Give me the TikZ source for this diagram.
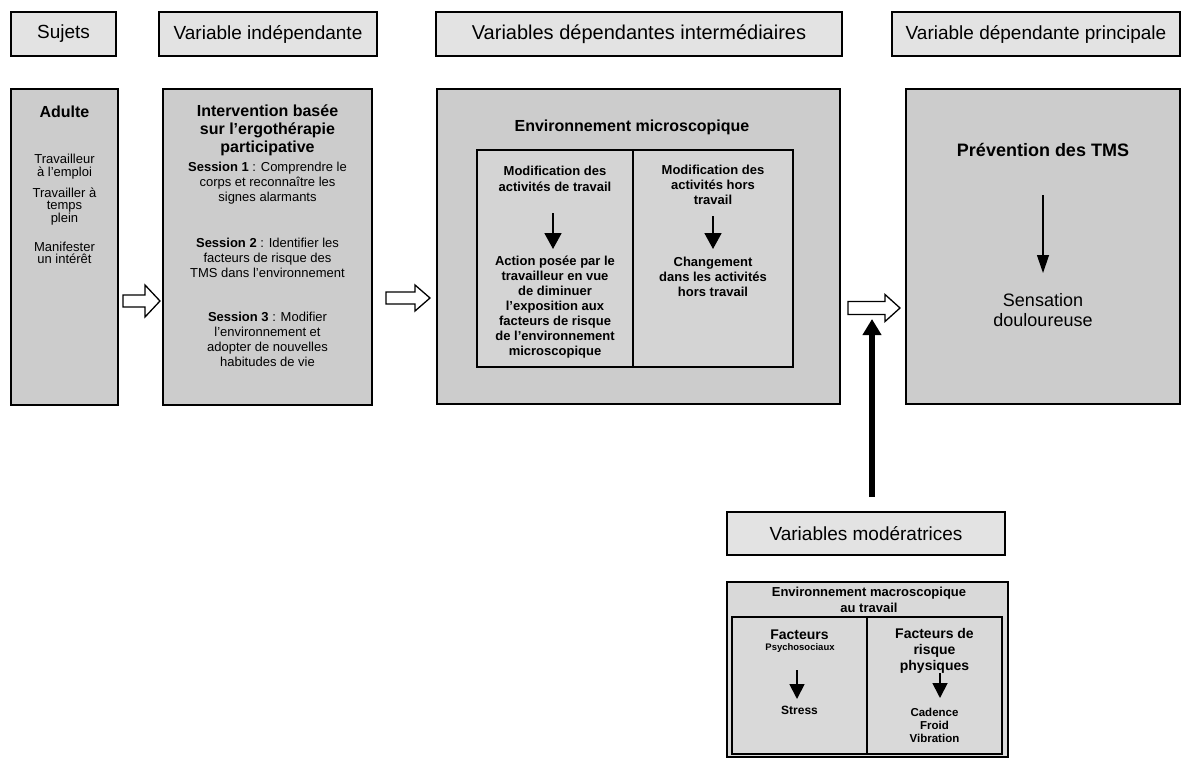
\documentclass[tikz,border=0pt]{standalone}
\usepackage{fontspec}
\setmainfont{Liberation Sans}
\usetikzlibrary{arrows.meta}
\newcommand{\fsz}[2]{\fontsize{#1}{#2}\selectfont}
\newcommand{\hollowarr}[6]{%
  \draw[hollow] (#1,{#3-#4}) -- ({#2-#6},{#3-#4}) -- ({#2-#6},{#3-#5}) -- (#2,#3)
    -- ({#2-#6},{#3+#5}) -- ({#2-#6},{#3+#4}) -- (#1,{#3+#4}) -- cycle;}
\begin{document}
\begin{tikzpicture}[x=1pt,y=-1pt,
  box/.style={draw, line width=1.6pt, fill=black!20, inner sep=0pt, rectangle},
  ibox/.style={draw, line width=1.6pt, fill=black!17, inner sep=0pt, rectangle},
  hdr/.style={draw, line width=1.6pt, fill=black!11, inner sep=0pt, rectangle, font=\fsz{19}{22}},
  txt/.style={align=center, inner sep=0pt},
  hollow/.style={draw, line width=1.3pt, fill=white, line join=miter},
  thinarr/.style={line width=1.8pt, -{Triangle[width=17pt,length=16pt]}},
  fleche/.style={line width=1.2pt, -{Triangle[width=12pt,length=18pt]}},
  smallarr/.style={line width=1.8pt, -{Triangle[width=15pt,length=15pt]}},
  bigarr/.style={line width=5.5pt, -{Triangle[width=18pt,length=16pt]}}
]
\useasboundingbox (0,0) rectangle (1184,758);
\fill[white] (0,0) rectangle (1184,758);

% headers
\node[hdr, minimum width=105pt, minimum height=44pt] (hsuj) at (63.5,34) {Sujets};
\node[hdr, minimum width=218pt, minimum height=44pt] (hind) at (268,34) {Variable indépendante};
\node[hdr, minimum width=406pt, minimum height=44pt, font=\fsz{20}{22}] (hint) at (639,34) {Variables dépendantes intermédiaires};
\node[hdr, minimum width=288pt, minimum height=44pt] (hpri) at (1036,34) {Variable dépendante principale};

% main boxes
\node[box, minimum width=107pt, minimum height=316pt] (adulte) at (64.5,247) {};
\node[box, minimum width=209pt, minimum height=316pt] (interv) at (267.5,247) {};
\node[box, minimum width=403pt, minimum height=315pt] (micro) at (638.5,246.5) {};
\node[box, minimum width=274pt, minimum height=315pt] (prev) at (1043,246.5) {};

% Adulte
\node[txt, font=\fsz{16}{18}\bfseries] (tadulte) at (64.5,112) {Adulte};
\node[txt, font=\fsz{13}{13}] (ta1) at (64.5,166.5) {Travailleur\\à l'emploi};
\node[txt, font=\fsz{13}{12}] (ta2) at (64.5,206.5) {Travailler à\\temps\\plein};
\node[txt, font=\fsz{13}{12}] (ta3) at (64.5,252.5) {Manifester\\un intérêt};

% Intervention
\node[txt, font=\fsz{16}{18}\bfseries] (tint) at (267.5,130) {Intervention basée\\sur l'ergothérapie\\participative};
\node[txt, font=\fsz{13}{15}] (ts1) at (267.5,183) {\textbf{Session 1} : Comprendre le\\corps et reconnaître les\\signes alarmants};
\node[txt, font=\fsz{13}{15}] (ts2) at (267.5,258) {\textbf{Session 2} : Identifier les\\facteurs de risque des\\TMS dans l'environnement};
\node[txt, font=\fsz{13}{15}] (ts3) at (267.5,339.5) {\textbf{Session 3} : Modifier\\l'environnement et\\adopter de nouvelles\\habitudes de vie};

% Micro environment
\node[txt, font=\fsz{16}{18}\bfseries] (tmicro) at (632,127) {Environnement microscopique};
\node[ibox, minimum width=316pt, minimum height=217pt] (inner) at (635,258.5) {};
\coordinate (divt) at (633,150);
\coordinate (divb) at (633,367);
\draw[line width=1.2pt] (divt) -- (divb);
\node[txt, font=\fsz{13}{16}\bfseries] (tl1) at (555,178.5) {Modification des\\activités de travail};
\node[txt, font=\fsz{13}{15}\bfseries] (tr1) at (713,185) {Modification des\\activités hors\\travail};
\node[txt, font=\fsz{13}{15}\bfseries] (tl2) at (555,307) {Action posée par le\\travailleur en vue\\de diminuer\\l'exposition aux\\facteurs de risque\\de l'environnement\\microscopique};
\node[txt, font=\fsz{13}{15}\bfseries] (tr2) at (713,277) {Changement\\dans les activités\\hors travail};
\coordinate (al0) at (553,213);
\coordinate (al1) at (553,249);
\coordinate (ar0) at (713,216);
\coordinate (ar1) at (713,249);
\draw[thinarr] (al0) -- (al1);
\draw[thinarr] (ar0) -- (ar1);

% Prevention
\node[txt, font=\fsz{18}{20}\bfseries] (tprev) at (1043,150) {Prévention des TMS};
\node[txt, font=\fsz{18}{20}] (tsens) at (1043,310) {Sensation\\douloureuse};
\coordinate (ap0) at (1043,195);
\coordinate (ap1) at (1043,273);
\draw[fleche] (ap0) -- (ap1);

% hollow arrows
\hollowarr{123}{160}{301}{6}{16}{15}
\hollowarr{386}{430}{298}{6}{13}{15}
\hollowarr{848}{900}{308}{6.5}{13.5}{15}

% moderators
\node[hdr, minimum width=278pt, minimum height=43pt] (hmod) at (866,533.5) {Variables modératrices};
\coordinate (bg0) at (872,497);
\coordinate (bg1) at (872,319);
\draw[bigarr] (bg0) -- (bg1);

\node[box, fill=black!15, minimum width=281pt, minimum height=175pt] (macro) at (867.5,669.5) {};
\node[txt, font=\fsz{13}{16}\bfseries] (tmacro) at (869,600) {Environnement macroscopique\\au travail};
\node[ibox, fill=black!15, minimum width=270pt, minimum height=137pt] (binner) at (867,685.5) {};
\coordinate (bdt) at (867,617);
\coordinate (bdb) at (867,754);
\draw[line width=1.2pt] (bdt) -- (bdb);
\node[txt, font=\fsz{14}{16}\bfseries] (tfac) at (799.5,635) {Facteurs};
\node[txt, font=\fsz{9.5}{11}\bfseries] (tpsy) at (800,648) {Psychosociaux};
\node[txt, font=\fsz{12}{14}\bfseries] (tstr) at (799.5,710) {Stress};
\node[txt, font=\fsz{14}{16}\bfseries] (tfac2) at (934.5,651) {Facteurs de\\risque\\physiques};
\node[txt, font=\fsz{11.5}{13}\bfseries] (tcad) at (934.5,725) {Cadence\\Froid\\Vibration};
\coordinate (bl0) at (797,670);
\coordinate (bl1) at (797,699);
\coordinate (br0) at (940,673);
\coordinate (br1) at (940,698);
\draw[smallarr] (bl0) -- (bl1);
\draw[smallarr] (br0) -- (br1);
\end{tikzpicture}
\end{document}
